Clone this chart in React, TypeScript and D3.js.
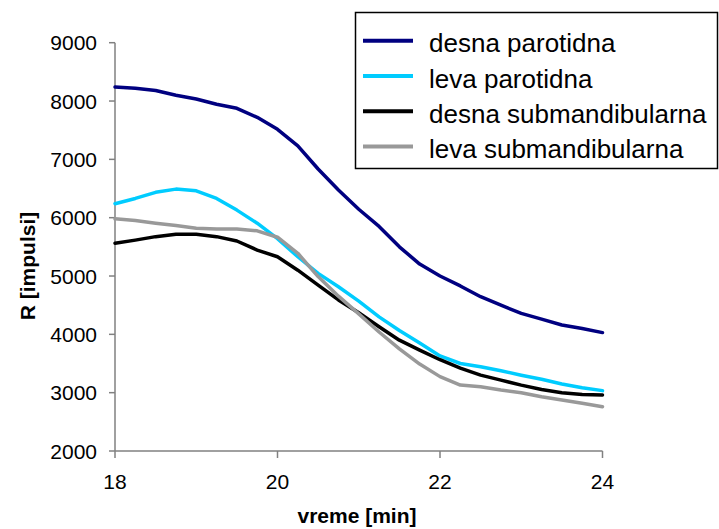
import React from "react";
import * as d3 from "d3";

const times = [18, 18.25, 18.5, 18.75, 19, 19.25, 19.5, 19.75, 20, 20.25, 20.5, 20.75, 21, 21.25, 21.5, 21.75, 22, 22.25, 22.5, 22.75, 23, 23.25, 23.5, 23.75, 24];
const desnaParotidna = [8240, 8220, 8180, 8100, 8035, 7945, 7875, 7720, 7515, 7230, 6835, 6475, 6145, 5850, 5500, 5205, 5000, 4830, 4645, 4500, 4360, 4260, 4160, 4100, 4030];
const levaParotidna = [6240, 6330, 6435, 6490, 6460, 6330, 6130, 5905, 5640, 5330, 5045, 4815, 4570, 4300, 4065, 3850, 3630, 3500, 3445, 3375, 3300, 3230, 3150, 3085, 3035];
const desnaSubmandibularna = [5560, 5615, 5675, 5715, 5715, 5675, 5600, 5445, 5330, 5100, 4845, 4590, 4370, 4130, 3900, 3730, 3565, 3420, 3300, 3215, 3130, 3055, 3000, 2970, 2960];
const levaSubmandibularna = [5980, 5950, 5905, 5865, 5820, 5805, 5805, 5775, 5665, 5390, 4990, 4655, 4350, 4040, 3750, 3490, 3275, 3130, 3100, 3045, 3000, 2930, 2875, 2820, 2760];

const seriesNames = ["desna parotidna", "leva parotidna", "desna submandibularna", "leva submandibularna"];
const seriesColors = ["#000080", "#00CCFF", "#000000", "#999999"];
const seriesValues = [desnaParotidna, levaParotidna, desnaSubmandibularna, levaSubmandibularna];

const xTicks = [18, 20, 22, 24];
const yTicks = [2000, 3000, 4000, 5000, 6000, 7000, 8000, 9000];
const xTitle = "vreme [min]";
const yTitle = "R [impulsi]";

export default function App() {
  const W = 719, H = 529;
  const x = d3.scaleLinear().domain([18, 24]).range([115, 602.5]);
  const y = d3.scaleLinear().domain([2000, 9000]).range([451, 42.7]);
  const line = d3
    .line<number>()
    .x((_, i) => x(times[i]))
    .y((v) => y(v));
  const font = "'Liberation Sans', Arial, sans-serif";
  const axisColor = "#808080";

  return (
    <svg
      width={W}
      height={H}
      style={{ position: "absolute", left: 0, top: 0, background: "#fff" }}
      fontFamily={font}
    >
      <rect x={0} y={0} width={W} height={H} fill="#fff" />
      {/* axes */}
      <line x1={x(18)} x2={x(18)} y1={y(9000)} y2={y(2000)} stroke={axisColor} strokeWidth={1.5} />
      <line x1={x(18)} x2={x(24)} y1={y(2000)} y2={y(2000)} stroke={axisColor} strokeWidth={1.5} />
      {yTicks.map((t) => (
        <g key={"y" + t}>
          <line x1={x(18) - 6} x2={x(18)} y1={y(t)} y2={y(t)} stroke={axisColor} strokeWidth={1.5} />
          <text x={97} y={y(t) + 7.5} textAnchor="end" fontSize={21} fill="#000">
            {t}
          </text>
        </g>
      ))}
      {xTicks.map((t) => (
        <g key={"x" + t}>
          <line x1={x(t)} x2={x(t)} y1={y(2000)} y2={y(2000) + 7} stroke={axisColor} strokeWidth={1.5} />
          <text x={x(t)} y={489} textAnchor="middle" fontSize={21} fill="#000">
            {t}
          </text>
        </g>
      ))}
      <text x={357} y={523} textAnchor="middle" fontSize={21} fontWeight="bold" fill="#000">
        {xTitle}
      </text>
      <text
        transform="translate(35,266) rotate(-90)"
        textAnchor="middle"
        fontSize={21}
        fontWeight="bold"
        fill="#000"
      >
        {yTitle}
      </text>
      {/* series */}
      {seriesValues.map((vals, i) => (
        <path
          key={seriesNames[i]}
          d={line(vals) || ""}
          fill="none"
          stroke={seriesColors[i]}
          strokeWidth={3.5}
          strokeLinejoin="round"
          strokeLinecap="round"
        />
      ))}
      {/* legend */}
      <rect x={355.5} y={12.5} width={362} height={156} fill="#fff" stroke="#000" strokeWidth={1.5} />
      {seriesNames.map((name, i) => {
        const ly = 40.7 + i * 35.3;
        return (
          <g key={"leg" + i}>
            <line x1={363} x2={413} y1={ly} y2={ly} stroke={seriesColors[i]} strokeWidth={4} />
            <text x={429} y={ly + 11.5} fontSize={26} fill="#000">
              {name}
            </text>
          </g>
        );
      })}
    </svg>
  );
}
